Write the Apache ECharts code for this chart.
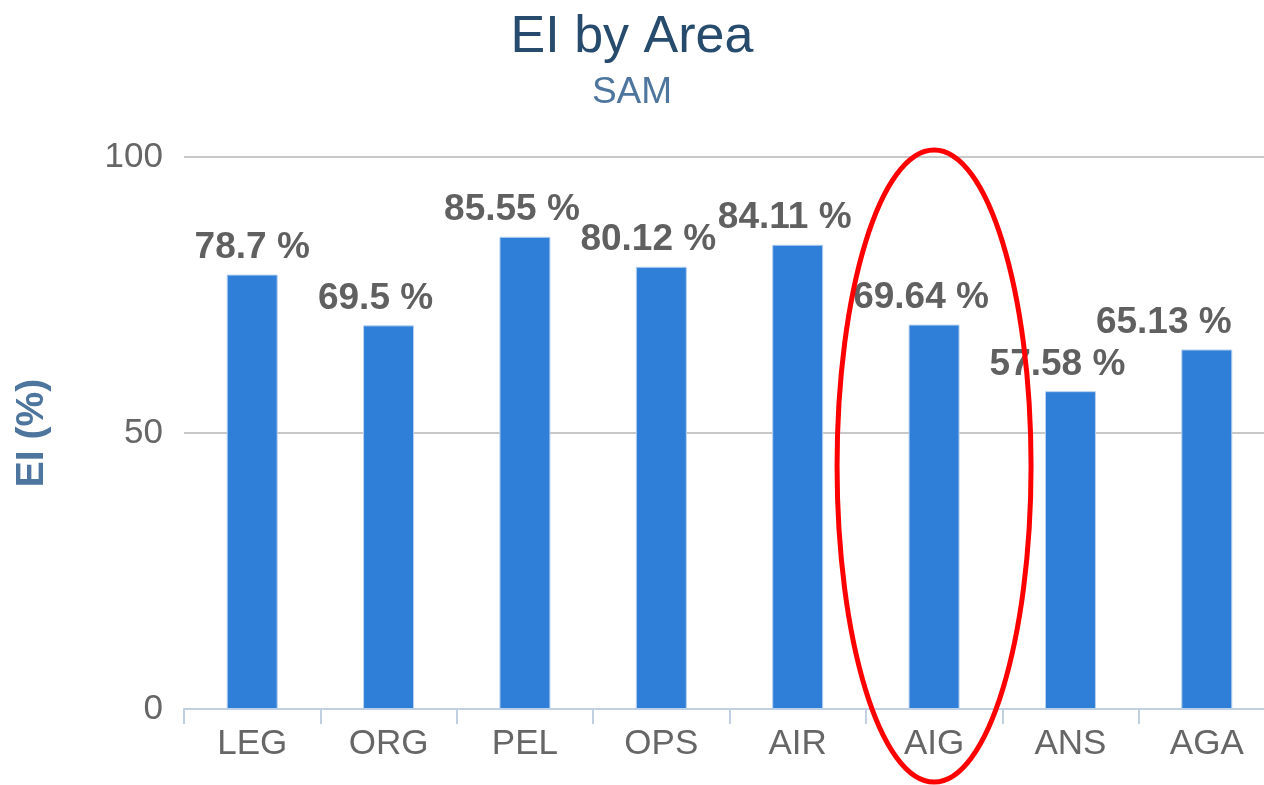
<!DOCTYPE html>
<html>
<head>
<meta charset="utf-8">
<script src="https://cdn.jsdelivr.net/npm/echarts@6/dist/echarts.min.js"></script>
<style>
  html, body { margin: 0; padding: 0; background: #fff; }
  #main { width: 1264px; height: 785px; }
</style>
</head>
<body>
<div id="main"></div>
<script>
// 数据
var categories = ['LEG', 'ORG', 'PEL', 'OPS', 'AIR', 'AIG', 'ANS', 'AGA'];
var eiValues = [78.7, 69.5, 85.55, 80.12, 84.11, 69.64, 57.58, 65.13];
var yTicks = [0, 50, 100];
var highlighted = 'AIG';

var font = '"Liberation Sans", Arial, sans-serif';
var myChart = echarts.init(document.getElementById('main'));

// 数值标签稍微往左偏（第一个不偏，最后一个靠右对齐）
var seriesData = eiValues.map(function (v, i) {
  var item = { value: v };
  if (i === 0) {
    item.label = { offset: [0, 0] };
  } else if (i === eiValues.length - 1) {
    item.label = { offset: [-43, 0] };
  }
  return item;
});

var option = {
  animation: false,
  title: [{
    text: 'EI by Area',
    left: 'center',
    top: 7,
    textStyle: { fontSize: 52, fontWeight: 'normal', color: '#274b6d', fontFamily: font }
  }, {
    text: 'SAM',
    left: 'center',
    top: 69,
    textStyle: { fontSize: 37, fontWeight: 'normal', color: '#4d759e', fontFamily: font }
  }],
  grid: {
    left: 184,
    top: 157,
    bottom: 76,
    width: 1091,
    outerBoundsMode: 'none',
    containLabel: false
  },
  xAxis: {
    type: 'category',
    data: categories,
    axisLine: { lineStyle: { color: '#c0d0e0', width: 2 } },
    axisTick: { show: true, length: 15, lineStyle: { color: '#c0d0e0', width: 2 } },
    axisLabel: { fontSize: 35, color: '#666666', margin: 18, fontFamily: font }
  },
  yAxis: {
    type: 'value',
    min: yTicks[0],
    max: yTicks[yTicks.length - 1],
    interval: 50,
    name: 'EI (%)',
    nameLocation: 'middle',
    nameRotate: 90,
    nameGap: 132,
    nameTextStyle: { fontSize: 39, fontWeight: 'bold', color: '#4d759e', fontFamily: font },
    axisLine: { show: false },
    axisTick: { show: false },
    axisLabel: { fontSize: 35, color: '#666666', margin: 21, fontFamily: font },
    splitLine: { lineStyle: { color: '#c8c8c8', width: 2 } }
  },
  series: [{
    type: 'bar',
    data: seriesData,
    barWidth: 51,
    itemStyle: { color: '#2f7ed8', borderColor: '#b8d2f0', borderWidth: 1 },
    label: {
      show: true,
      position: 'top',
      distance: 8,
      offset: [-13, 0],
      fontSize: 37,
      fontWeight: 'bold',
      color: '#606060',
      fontFamily: font,
      formatter: function (p) { return p.value + ' %'; }
    }
  }]
};
myChart.setOption(option);

// 红色椭圆标注
var cx = myChart.convertToPixel({ xAxisIndex: 0 }, highlighted);
myChart.setOption({
  graphic: [{
    type: 'ellipse',
    shape: { cx: cx, cy: 466, rx: 97, ry: 316 },
    style: { fill: 'none', stroke: '#ff0000', lineWidth: 5 },
    z: 100
  }]
});
</script>
</body>
</html>
